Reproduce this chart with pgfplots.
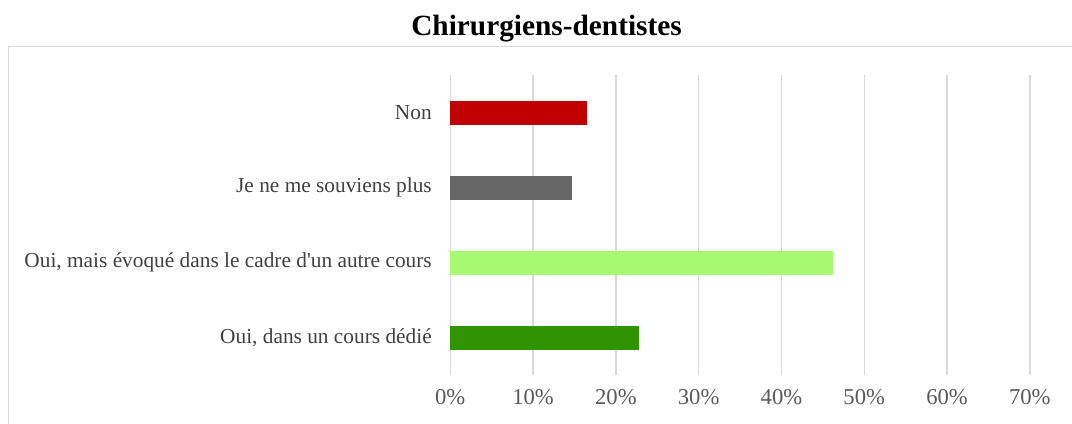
\documentclass[border=0pt]{standalone}
\usepackage{fontspec}
\setmainfont{Liberation Serif}
\usepackage{pgfplots}
\pgfplotsset{compat=1.18}
\definecolor{cRed}{HTML}{C00000}
\definecolor{cGray}{HTML}{676767}
\definecolor{cLight}{HTML}{A6F970}
\definecolor{cGreen}{HTML}{2E9400}
\definecolor{gridc}{HTML}{D9D9D9}
\definecolor{labc}{HTML}{404040}
\definecolor{tickc}{HTML}{595959}
\begin{document}
\begin{tikzpicture}
\useasboundingbox (0pt,0pt) rectangle (804pt,-318pt);
\draw[gridc, line width=1.1pt] (6.2pt,-320pt) -- (6.2pt,-35pt) -- (806pt,-35pt);
\node[anchor=base, font=\fontsize{22}{26}\selectfont\bfseries] at (409.9pt,-26.5pt) {Chirurgiens-dentistes};
\begin{axis}[
  at={(337.7pt,-281.6pt)}, anchor=south west,
  scale only axis,
  width=434.7pt, height=225.4pt,
  xbar, bar width=18pt,
  xmin=0, xmax=0.7,
  ymin=-0.5, ymax=3.5,
  xtick={0,0.1,0.2,0.3,0.4,0.5,0.6,0.7},
  xticklabels={\textrm{0\%},\textrm{10\%},\textrm{20\%},\textrm{30\%},\textrm{40\%},\textrm{50\%},\textrm{60\%},\textrm{70\%}},
  ytick={0,1,2,3},
  yticklabels={{Oui, dans un cours dédié},{Oui, mais évoqué dans le cadre d\textquotesingle un autre cours},{Je ne me souviens plus},{Non}},
  major tick length=0pt,
  axis line style={draw=none},
  xmajorgrids, major grid style={gridc, line width=1.1pt},
  ymajorgrids=false,
  yticklabel style={anchor=east, inner sep=0pt, xshift=-13.7pt, font=\fontsize{16}{19}\selectfont, text=labc},
  xticklabel style={anchor=north, inner sep=0pt, yshift=-10.5pt, font=\fontsize{17}{20}\selectfont, text=tickc},
  clip=false,
]
\addplot[fill=cGreen, draw=none, bar shift=0pt] coordinates {(0.228,0)};
\addplot[fill=cLight, draw=none, bar shift=0pt] coordinates {(0.462,1)};
\addplot[fill=cGray, draw=none, bar shift=0pt] coordinates {(0.147,2)};
\addplot[fill=cRed, draw=none, bar shift=0pt] coordinates {(0.165,3)};
\end{axis}
\end{tikzpicture}
\end{document}
